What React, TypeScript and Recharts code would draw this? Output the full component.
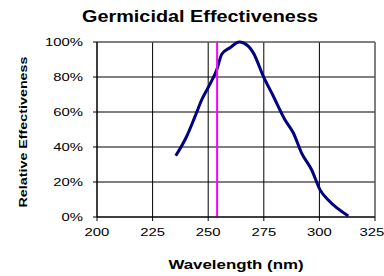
import { CartesianGrid, Line, LineChart, ReferenceLine, XAxis, YAxis } from "recharts";

const wavelengths = [235.4, 240.3, 244.1, 247.1, 250, 253.8, 256.1, 259.8, 264, 268, 270.3, 274.8, 279.3, 284.5, 288.3, 292, 296.5, 300.3, 304, 313];
const effectiveness = [35, 46, 57.5, 67, 74, 84, 93, 96.7, 100, 97.6, 93.8, 80.4, 69, 55.6, 48, 36.5, 27, 15.5, 9.7, 0.6];
const xTicks = [200, 225, 250, 275, 300, 325];
const yTicks = [0, 20, 40, 60, 80, 100];
const lampWavelength = 254;

const data = wavelengths.map((wl, i) => ({ wl, eff: effectiveness[i] }));

const font = "'Liberation Sans', Arial, sans-serif";

function XTick({ x, y, payload }: any) {
  return (
    <g transform={`translate(${x},${y - 6})`}>
      <text transform="scale(1.35,1)" textAnchor="middle" y={19} fontSize={11} fontFamily={font} fill="#000">
        {payload.value}
      </text>
    </g>
  );
}

function YTick({ x, y, payload }: any) {
  return (
    <g transform={`translate(${x - 8},${y + 4})`}>
      <text transform="scale(1.35,1)" textAnchor="end" fontSize={11} fontFamily={font} fill="#000">
        {payload.value}%
      </text>
    </g>
  );
}

export default function App() {
  return (
    <div style={{ position: "absolute", left: 0, top: 0, width: 384, height: 276, background: "#fff" }}>
      <LineChart width={384} height={276} data={data} margin={{ top: 42, right: 9, bottom: 0, left: 0 }}>
        <CartesianGrid stroke="#000" />
        <XAxis
          type="number"
          dataKey="wl"
          domain={[200, 325]}
          ticks={xTicks}
          height={59}
          tickSize={4}
          stroke="#000"
          tick={<XTick />}
        />
        <YAxis type="number" domain={[0, 100]} ticks={yTicks} width={97} tickSize={4} stroke="#000" tick={<YTick />} />
        <ReferenceLine y={100} stroke="#808080" />
        <ReferenceLine x={325} stroke="#808080" />
        <Line
          dataKey="eff"
          type="monotone"
          stroke="#000080"
          strokeWidth={3}
          dot={false}
          isAnimationActive={false}
        />
        <ReferenceLine x={lampWavelength} stroke="#ff00ff" strokeWidth={2} />
      </LineChart>
      <svg width={384} height={276} style={{ position: "absolute", left: 0, top: 0, pointerEvents: "none" }}>
        <g transform="translate(200,22)">
          <text transform="scale(1.24,1)" textAnchor="middle" fontSize={16} fontWeight="bold" fontFamily={font}>
            Germicidal Effectiveness
          </text>
        </g>
        <g transform="translate(236,269)">
          <text transform="scale(1.35,1)" textAnchor="middle" fontSize={12.5} fontWeight="bold" fontFamily={font}>
            Wavelength (nm)
          </text>
        </g>
        <g transform="translate(27,132) rotate(-90)">
          <text transform="scale(1.3,1)" textAnchor="middle" fontSize={11} fontWeight="bold" fontFamily={font}>
            Relative Effectiveness
          </text>
        </g>
      </svg>
    </div>
  );
}
